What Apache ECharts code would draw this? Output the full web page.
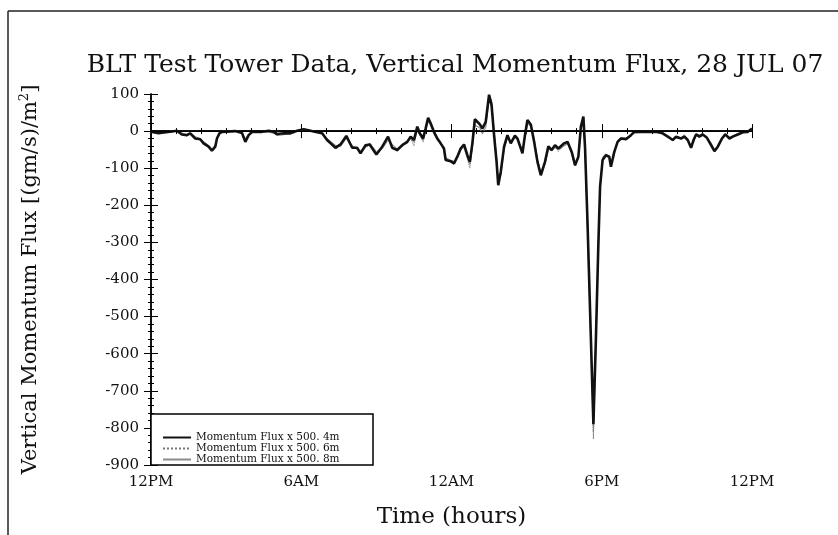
<!DOCTYPE html>
<html>
<head>
<meta charset="utf-8">
<script src="https://cdn.jsdelivr.net/npm/echarts@6/dist/echarts.min.js"></script>
<style>
  html, body { margin: 0; padding: 0; background: #fff; }
  #chart { width: 838px; height: 535px; }
</style>
</head>
<body>
<div id="chart"></div>
<script>
// time axis in hours since the first 12PM (ticks every 18 h)
var xTickLabels = ['12PM', '6AM', '12AM', '6PM', '12PM'];

var hours = [0,0.9,1.5,2.5,3.1,3.7,4.3,4.7,5.3,5.9,6.3,6.9,7.3,7.7,7.9,8.2,8.5,10.1,10.9,11.3,
  11.7,12.1,13.3,14.1,14.7,15.1,15.9,16.7,17.5,18.3,19.1,19.9,20.5,21.1,22.1,22.7,23.4,24.1,24.7,25.1,
  25.7,26.2,27.0,27.7,28.4,28.9,29.5,30.1,30.7,31.1,31.5,31.9,32.2,32.6,32.9,33.2,33.5,33.9,34.3,34.7,
  35.1,35.3,35.9,36.3,36.7,37.1,37.5,37.9,38.2,38.5,38.8,39.4,39.7,40.1,40.5,40.8,41.1,41.4,41.6,41.9,
  42.3,42.7,43.1,43.6,43.9,44.5,44.8,45.1,45.5,45.9,46.3,46.7,47.2,47.6,48.0,48.4,48.8,49.5,49.9,50.4,
  50.8,51.2,51.5,51.8,52.0,52.3,52.7,53.0,53.3,53.6,53.8,54.1,54.5,54.9,55.1,55.5,55.9,56.3,56.9,57.5,
  57.9,58.1,60.5,61.3,62.1,62.5,62.9,63.5,63.9,64.3,64.7,65.0,65.3,65.7,66.1,66.6,67.1,67.5,67.9,68.4,
  68.8,69.3,69.7,70.3,70.9,71.5,72.0];

var flux4m = [-2,-6,-4,-1,1,-9,-11,-6,-20,-22,-33,-42,-53,-42,-20,-6,-2,0,-5,-29,
  -11,-2,-2,1,-2,-8,-6,-6,1,5,1,-3,-6,-24,-45,-36,-13,-45,-45,-60,
  -38,-36,-63,-42,-15,-45,-51,-38,-29,-15,-24,12,-6,-20,7,36,21,-2,-20,-33,
  -47,-78,-81,-87,-69,-47,-36,-65,-83,-33,32,18,7,25,98,70,-11,-83,-146,-110,
  -42,-11,-33,-12,-20,-60,-11,30,18,-29,-83,-119,-83,-41,-51,-38,-47,-33,-29,-56,
  -92,-69,12,39,-45,-250,-560,-790,-560,-300,-150,-78,-65,-69,-96,-56,-29,-20,-22,-11,
  -2,0,-2,-6,-18,-24,-15,-20,-15,-24,-45,-24,-9,-15,-9,-18,-38,-54,-42,-20,
  -9,-20,-15,-9,-3,-2,7];

var flux6m = [-3,-4,-6,-2,0,-7,-13,-8,-18,-25,-30,-45,-50,-40,-22,-5,-3,-1,-6,-25,
  -12,-3,-4,-2,-5,-10,-8,-4,2,3,0,-4,-8,-28,-40,-40,-18,-42,-50,-55,
  -42,-40,-58,-45,-20,-40,-55,-35,-33,-20,-40,5,-12,-30,0,25,15,-8,-25,-30,
  -55,-70,-85,-90,-65,-50,-45,-75,-100,-40,20,5,-5,15,90,80,-5,-75,-140,-115,
  -45,-15,-30,-15,-25,-55,-15,25,15,-25,-80,-115,-85,-45,-55,-40,-55,-38,-32,-60,
  -95,-65,5,30,-60,-280,-580,-830,-580,-320,-160,-70,-60,-75,-90,-60,-25,-22,-20,-14,
  -4,-1,-3,-8,-16,-26,-18,-17,-12,-26,-42,-28,-6,-12,-6,-20,-35,-56,-40,-22,
  -6,-18,-12,-6,-5,-1,5];

var flux8m = [-1,-5,-3,0,2,-5,-9,-4,-15,-20,-28,-38,-48,-38,-18,-4,-1,1,-3,-20,
  -8,-1,-3,-3,-6,-12,-10,-3,0,4,2,-2,-7,-20,-38,-42,-20,-38,-48,-52,
  -45,-32,-55,-48,-25,-35,-48,-40,-25,-22,-30,0,-10,-25,3,28,18,-5,-22,-35,
  -50,-72,-78,-82,-72,-52,-40,-70,-90,-45,15,10,-8,10,85,85,0,-70,-135,-120,
  -50,-18,-28,-18,-22,-50,-20,20,12,-20,-75,-110,-90,-50,-50,-45,-50,-40,-35,-55,
  -88,-70,0,25,-55,-270,-570,-810,-570,-310,-145,-72,-62,-72,-92,-62,-30,-18,-18,-12,
  -5,-2,-1,-5,-14,-22,-20,-18,-10,-22,-40,-30,-12,-10,-8,-16,-32,-50,-45,-25,
  -8,-16,-14,-8,-4,-3,4];

function pairs(vals) {
  return hours.map(function (h, i) { return [h, vals[i]]; });
}

var serif = 'DejaVu Serif';
var chart = echarts.init(document.getElementById('chart'));

function ticks() {
  return { inside: true, length: 7, lineStyle: { color: '#000', width: 1 } };
}
function minor(n) {
  return { show: true, splitNumber: n, length: 3, lineStyle: { color: '#000', width: 1 } };
}

chart.setOption({
  animation: false,
  backgroundColor: '#fff',
  title: {
    text: 'BLT Test Tower Data, Vertical Momentum Flux, 28 JUL 07',
    left: 450, top: 48, textAlign: 'center',
    textStyle: { fontFamily: serif, fontSize: 25, fontWeight: 'normal', color: '#111' }
  },
  grid: { left: 151, right: 86, top: 94, bottom: 70 },
  legend: {
    orient: 'vertical', left: 162, top: 432, itemGap: 0, z: 20, padding: 0,
    itemWidth: 28, itemHeight: 6,
    itemStyle: { opacity: 0 },
    textStyle: { fontFamily: serif, fontSize: 10.5, lineHeight: 10, color: '#111' },
    data: ['Momentum Flux x 500. 4m', 'Momentum Flux x 500. 6m', 'Momentum Flux x 500. 8m']
  },
  xAxis: [{
    type: 'value', min: 0, max: 72, interval: 18,
    name: 'Time (hours)', nameLocation: 'middle', nameGap: 41,
    nameTextStyle: { fontFamily: serif, fontSize: 23, color: '#111' },
    axisLine: { lineStyle: { color: '#000', width: 1.5 } },
    axisTick: ticks(), minorTick: minor(6),
    splitLine: { show: false },
    axisLabel: {
      fontFamily: serif, fontSize: 15, color: '#111', margin: 10,
      formatter: function (v) { return xTickLabels[Math.round(v / 18)]; }
    }
  }, {
    type: 'value', min: 0, max: 72, interval: 18, position: 'top',
    axisLine: { lineStyle: { color: '#000', width: 1.5 } },
    axisTick: ticks(), minorTick: minor(6),
    splitLine: { show: false },
    axisLabel: { show: false }
  }],
  yAxis: [{
    type: 'value', min: -900, max: 100, interval: 100,
    name: 'Vertical Momentum Flux [(gm/s)/m{sup|2}]', nameLocation: 'middle', nameGap: 108,
    nameTextStyle: {
      fontFamily: serif, fontSize: 21, color: '#111',
      rich: { sup: { fontFamily: serif, fontSize: 13, verticalAlign: 'top', padding: [0, 0, 12, 0] } }
    },
    axisLine: { lineStyle: { color: '#000', width: 1.5 } },
    axisTick: ticks(), minorTick: minor(5),
    splitLine: { show: false },
    axisLabel: { fontFamily: serif, fontSize: 15, color: '#111', margin: 12 }
  }, {
    type: 'value', min: -900, max: 100, interval: 100, position: 'right',
    axisLine: { lineStyle: { color: '#000', width: 1.5 } },
    axisTick: ticks(), minorTick: minor(5),
    splitLine: { show: false },
    axisLabel: { show: false }
  }],
  graphic: [
    { type: 'line', shape: { x1: 8, y1: 11, x2: 838, y2: 11 }, style: { stroke: '#222', lineWidth: 1.5 } },
    { type: 'line', shape: { x1: 8, y1: 11, x2: 8, y2: 535 }, style: { stroke: '#222', lineWidth: 1.5 } },
    { type: 'rect', z: 10, shape: { x: 151, y: 414, width: 222, height: 51 },
      style: { fill: '#fff', stroke: '#000', lineWidth: 1.5 } }
  ],
  series: [{
    name: 'Momentum Flux x 500. 8m', type: 'line', symbol: 'none', z: 2,
    lineStyle: { color: '#8a8a8a', width: 1 }, itemStyle: { color: '#8a8a8a' },
    data: pairs(flux8m)
  }, {
    name: 'Momentum Flux x 500. 6m', type: 'line', symbol: 'none', z: 3,
    lineStyle: { color: '#777', width: 1, type: 'dotted' }, itemStyle: { color: '#777' },
    data: pairs(flux6m)
  }, {
    name: 'Momentum Flux x 500. 4m', type: 'line', symbol: 'none', z: 4,
    lineStyle: { color: '#111', width: 2.6 }, itemStyle: { color: '#111' },
    data: pairs(flux4m),
    markLine: {
      silent: true, symbol: 'none', label: { show: false },
      lineStyle: { color: '#000', width: 1.2, type: 'solid' },
      data: [{ yAxis: 0 }]
    }
  }]
});
</script>
</body>
</html>
